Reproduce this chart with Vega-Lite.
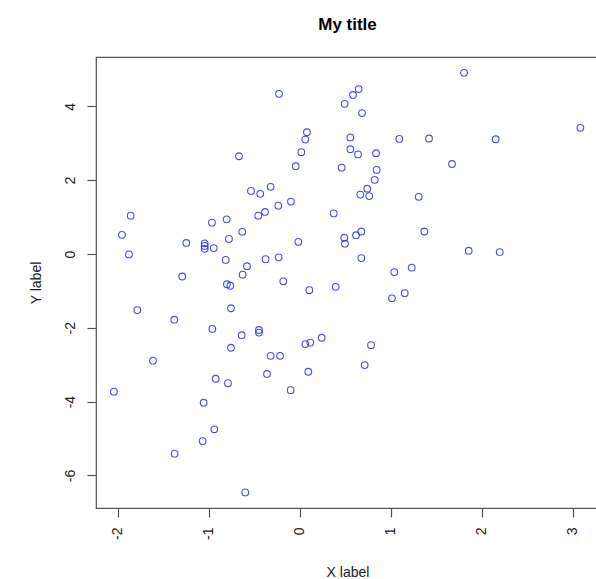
{
  "$schema": "https://vega.github.io/schema/vega-lite/v6.json",
  "autosize": {"type": "none"},
  "padding": {"left": 96, "top": 57, "right": 0, "bottom": 71},
  "width": 503,
  "height": 451,
  "background": "white",
  "config": {
    "view": {"stroke": "#555555", "strokeWidth": 1.2},
    "font": "Liberation Sans"
  },
  "title": {
    "text": "My title",
    "font": "Liberation Sans",
    "fontSize": 17,
    "fontWeight": "bold",
    "color": "black",
    "anchor": "middle",
    "baseline": "alphabetic",
    "offset": 10
  },
  "data": {
    "values": [
      {"x": -0.226, "y": 4.34}, {"x": 0.495, "y": 4.07}, {"x": 0.587, "y": 4.31}, {"x": 0.649, "y": 4.47},
      {"x": 0.081, "y": 3.30}, {"x": 0.063, "y": 3.10}, {"x": 0.019, "y": 2.76}, {"x": -0.666, "y": 2.65},
      {"x": -0.043, "y": 2.38}, {"x": 0.462, "y": 2.34}, {"x": -0.534, "y": 1.71}, {"x": -0.432, "y": 1.63},
      {"x": -0.318, "y": 1.82}, {"x": -0.234, "y": 1.31}, {"x": -0.095, "y": 1.42}, {"x": 1.807, "y": 4.91},
      {"x": 0.686, "y": 3.82}, {"x": 3.085, "y": 3.42}, {"x": 0.558, "y": 3.16}, {"x": 1.096, "y": 3.12},
      {"x": 1.422, "y": 3.13}, {"x": 2.155, "y": 3.11}, {"x": 0.558, "y": 2.84}, {"x": 0.642, "y": 2.70},
      {"x": 0.840, "y": 2.73}, {"x": 1.675, "y": 2.44}, {"x": 0.847, "y": 2.28}, {"x": 0.825, "y": 2.01},
      {"x": 0.744, "y": 1.77}, {"x": 0.667, "y": 1.61}, {"x": 0.766, "y": 1.57}, {"x": 1.309, "y": 1.55},
      {"x": -1.856, "y": 1.04}, {"x": -0.963, "y": 0.85}, {"x": -0.801, "y": 0.94}, {"x": -0.454, "y": 1.04},
      {"x": -0.380, "y": 1.14}, {"x": 0.375, "y": 1.10}, {"x": -1.952, "y": 0.52}, {"x": -1.245, "y": 0.30},
      {"x": -1.043, "y": 0.29}, {"x": -1.043, "y": 0.22}, {"x": -1.043, "y": 0.14}, {"x": -0.944, "y": 0.16},
      {"x": -0.776, "y": 0.41}, {"x": -0.630, "y": 0.60}, {"x": -0.014, "y": 0.33}, {"x": 0.491, "y": 0.44},
      {"x": 0.499, "y": 0.28}, {"x": -1.875, "y": -0.01}, {"x": -0.812, "y": -0.16}, {"x": -0.578, "y": -0.33},
      {"x": -0.373, "y": -0.14}, {"x": -0.230, "y": -0.09}, {"x": -0.626, "y": -0.56}, {"x": -1.289, "y": -0.61},
      {"x": -0.179, "y": -0.74}, {"x": -0.798, "y": -0.82}, {"x": -0.761, "y": -0.86}, {"x": 0.107, "y": -0.98},
      {"x": 0.397, "y": -0.89}, {"x": -1.783, "y": -1.52}, {"x": -0.754, "y": -1.47}, {"x": -1.377, "y": -1.78},
      {"x": -0.959, "y": -2.03}, {"x": -0.446, "y": -2.06}, {"x": -0.446, "y": -2.13}, {"x": -0.636, "y": -2.20},
      {"x": 0.243, "y": -2.27}, {"x": 0.063, "y": -2.44}, {"x": 0.118, "y": -2.40}, {"x": -0.754, "y": -2.54},
      {"x": 1.371, "y": 0.61}, {"x": 0.620, "y": 0.51}, {"x": 0.678, "y": 0.61}, {"x": 1.858, "y": 0.09},
      {"x": 2.199, "y": 0.05}, {"x": 0.678, "y": -0.11}, {"x": 1.232, "y": -0.37}, {"x": 1.041, "y": -0.49},
      {"x": 1.155, "y": -1.06}, {"x": 1.015, "y": -1.20}, {"x": 0.785, "y": -2.47}, {"x": -1.611, "y": -2.89},
      {"x": -0.318, "y": -2.76}, {"x": -0.215, "y": -2.76}, {"x": -0.358, "y": -3.25}, {"x": 0.096, "y": -3.19},
      {"x": -0.922, "y": -3.38}, {"x": -0.787, "y": -3.50}, {"x": -2.040, "y": -3.73}, {"x": -0.098, "y": -3.69},
      {"x": -1.054, "y": -4.03}, {"x": -0.937, "y": -4.75}, {"x": -1.065, "y": -5.07}, {"x": -1.373, "y": -5.41},
      {"x": -0.597, "y": -6.46}, {"x": 0.715, "y": -3.01}
    ]
  },
  "mark": {"type": "point", "shape": "circle", "filled": false, "color": "#3b3be6", "strokeWidth": 1.1, "size": 45, "opacity": 0.9},
  "encoding": {
    "x": {
      "field": "x",
      "type": "quantitative",
      "scale": {"domain": [-2.237, 3.29], "nice": false, "zero": false},
      "axis": {
        "title": "X label",
        "values": [-2, -1, 0, 1, 2, 3],
        "labelExpr": "'' + datum.value",
        "grid": false,
        "domain": false,
        "tickSize": 9,
        "tickColor": "#555555",
        "tickWidth": 1.2,
        "labelAngle": 270,
        "labelAlign": "right",
        "labelBaseline": "middle",
        "labelPadding": 10,
        "labelFont": "Liberation Sans",
        "labelFontSize": 14,
        "labelColor": "#222222",
        "titleFont": "Liberation Sans",
        "titleFontSize": 14,
        "titleFontWeight": "normal",
        "titleColor": "#222222",
        "titleX": 251.5,
        "titleY": 68,
        "titleAlign": "center",
        "titleBaseline": "alphabetic",
        "titleAnchor": "middle"
      }
    },
    "y": {
      "field": "y",
      "type": "quantitative",
      "scale": {"domain": [-6.883, 5.339], "nice": false, "zero": false},
      "axis": {
        "title": "Y label",
        "values": [-6, -4, -2, 0, 2, 4],
        "labelExpr": "'' + datum.value",
        "grid": false,
        "domain": false,
        "tickSize": 9,
        "tickColor": "#555555",
        "tickWidth": 1.2,
        "labelAngle": 270,
        "labelAlign": "center",
        "labelBaseline": "alphabetic",
        "labelPadding": 13,
        "labelFont": "Liberation Sans",
        "labelFontSize": 14,
        "labelColor": "#222222",
        "titleFont": "Liberation Sans",
        "titleFontSize": 14,
        "titleFontWeight": "normal",
        "titleColor": "#222222",
        "titleX": -56,
        "titleY": 225.5,
        "titleAngle": 270,
        "titleAlign": "center",
        "titleBaseline": "alphabetic",
        "titleAnchor": "middle"
      }
    }
  }
}
